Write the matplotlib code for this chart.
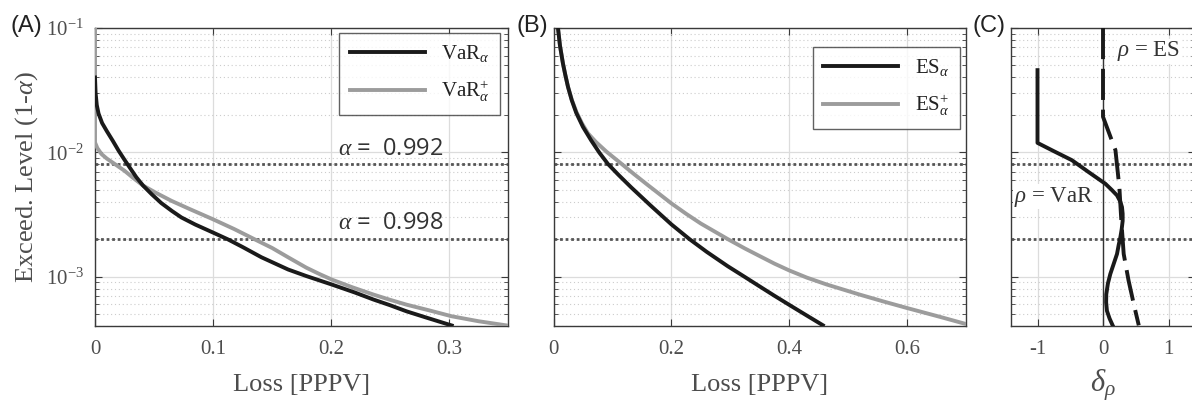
import matplotlib
matplotlib.use("Agg")
import matplotlib.pyplot as plt
import numpy as np

# ---------------- data ----------------
var_x = [0.0, 0.0005, 0.0015, 0.003, 0.006, 0.01, 0.015, 0.02, 0.025, 0.03, 0.035, 0.0407,
         0.048, 0.0562, 0.065, 0.0732, 0.085, 0.1, 0.1127, 0.125, 0.141, 0.1636, 0.179,
         0.2006, 0.22, 0.236, 0.25, 0.264, 0.28, 0.3023]
var_y = [0.040, 0.030, 0.024, 0.0205, 0.0172, 0.0148, 0.0124, 0.0103, 0.0087, 0.0074, 0.0063, 0.0054,
         0.0046, 0.0039, 0.00338, 0.00299, 0.00262, 0.00226, 0.00199, 0.00173, 0.00143, 0.00114, 0.00101,
         0.000863, 0.000745, 0.000653, 0.000588, 0.000525, 0.00047, 0.000404]

varp_x = [0.0, 0.0, 0.002, 0.0054, 0.01, 0.0167, 0.025, 0.0325, 0.0407, 0.052, 0.0647, 0.08,
          0.1, 0.118, 0.135, 0.15, 0.1636, 0.179, 0.19, 0.2006, 0.218, 0.236, 0.25, 0.264,
          0.283, 0.3023, 0.325, 0.349]
varp_y = [0.1, 0.012, 0.0108, 0.0097, 0.0089, 0.00805, 0.0071, 0.0062, 0.0054, 0.0047, 0.00407, 0.0035,
          0.00289, 0.00241, 0.002, 0.0017, 0.00143, 0.00118, 0.00105, 0.000946, 0.00082, 0.000716,
          0.00065, 0.000594, 0.000535, 0.000479, 0.000437, 0.000404]

esp_x = [0.0076, 0.011, 0.016, 0.02, 0.0246, 0.031, 0.0387, 0.048, 0.0585, 0.072, 0.09, 0.115,
         0.137, 0.16, 0.18, 0.2, 0.225, 0.25, 0.2958, 0.325, 0.35, 0.375, 0.4, 0.43, 0.463,
         0.5195, 0.56, 0.6, 0.655, 0.6975]
esp_y = [0.1, 0.072, 0.0519, 0.042, 0.0336, 0.0265, 0.0212, 0.0172, 0.0142, 0.0121, 0.0101, 0.0081,
         0.00665, 0.00545, 0.0046, 0.00388, 0.0032, 0.00267, 0.002, 0.00168, 0.00146, 0.00127, 0.00112,
         0.00098, 0.000865, 0.000716, 0.00063, 0.000558, 0.000475, 0.000418]

es_x = [0.0076, 0.011, 0.016, 0.02, 0.0246, 0.031, 0.0387, 0.05, 0.064, 0.078, 0.0924, 0.11,
        0.132, 0.165, 0.2, 0.2308, 0.26, 0.2958, 0.325, 0.35, 0.375, 0.4, 0.43, 0.457]
es_y = [0.1, 0.072, 0.0519, 0.042, 0.0336, 0.0262, 0.0207, 0.0160, 0.01245, 0.0099, 0.00805, 0.0066,
        0.00521, 0.00372, 0.00263, 0.002, 0.00158, 0.00121, 0.00099, 0.000832, 0.0007, 0.000592,
        0.000485, 0.000406]

dvar_x = [-1.0, -1.0, -0.75, -0.474, -0.22, -0.05, 0.036, 0.13, 0.214, 0.265, 0.29, 0.30, 0.30,
          0.285, 0.265, 0.24, 0.214, 0.16, 0.112, 0.075, 0.05, 0.048, 0.06, 0.10, 0.147]
dvar_y = [0.0458, 0.0119, 0.0102, 0.00863, 0.00693, 0.0060, 0.00558, 0.0050, 0.0045, 0.0040, 0.00362,
          0.0032, 0.0028, 0.0024, 0.00207, 0.0018, 0.00152, 0.00125, 0.00105, 0.00088, 0.00072,
          0.00062, 0.00053, 0.00046, 0.000405]

des_x = [0.0, 0.0, 0.19, 0.25, 0.28, 0.316, 0.39, 0.47, 0.546]
des_y = [0.1, 0.0193, 0.0104, 0.00521, 0.0028, 0.00152, 0.00093, 0.0006, 0.000405]

alpha_levels = [0.992, 0.998]
alpha_labels = [r"$\alpha$ =  0.992", r"$\alpha$ =  0.998"]

xticks_a = [0, 0.1, 0.2, 0.3]
xticks_b = [0, 0.2, 0.4, 0.6]
xticks_c = [-1, 0, 1]

# ---------------- style ----------------
plt.rcParams["font.family"] = ["Liberation Serif", "DejaVu Serif"]
plt.rcParams["mathtext.fontset"] = "custom"
plt.rcParams["mathtext.rm"] = "Liberation Serif"
plt.rcParams["mathtext.it"] = "Liberation Serif:italic"
plt.rcParams["mathtext.bf"] = "Liberation Serif:bold"

W, H = 1192, 409
fig = plt.figure(figsize=(W / 100, H / 100), dpi=100)

TXT = "#4d4d4d"
SPINE = "#3a3a3a"
BLACK = "#1a1a1a"
GRAY = "#9c9c9c"

def make_ax(left, right, top, bottom):
    return fig.add_axes([left / W, (H - bottom) / H, (right - left) / W, (bottom - top) / H])

def style(ax, xlim, xticks, ylabels):
    ax.set_yscale("log")
    ax.set_ylim(4e-4, 0.1)
    ax.set_xlim(*xlim)
    ax.set_xticks(xticks)
    ax.set_xticklabels([("%g" % t) for t in xticks])
    ax.grid(True, which="major", color="#dcdcdc", lw=0.9, ls="-")
    ax.grid(True, which="minor", axis="y", color="#cccccc", lw=0.8, ls=(0, (1, 2.5)))
    ax.set_axisbelow(True)
    for s in ax.spines.values():
        s.set_color(SPINE)
        s.set_linewidth(1.0)
    ax.tick_params(which="both", direction="in", top=True, right=True, colors=SPINE,
                   labelcolor=TXT, labelsize=15)
    ax.tick_params(axis="x", pad=10)
    ax.tick_params(axis="y", pad=8)
    ax.tick_params(which="major", length=5)
    ax.tick_params(which="minor", length=3)
    if not ylabels:
        ax.tick_params(axis="y", which="both", labelleft=False)
    for lvl in alpha_levels:
        ax.axhline(1 - lvl, color="#555555", lw=2.0, ls=(0, (1, 1)), zorder=2)

# Panel A
axA = make_ax(95, 508, 28, 326)
style(axA, (0, 0.35), xticks_a, True)
axA.plot(var_x, var_y, color=BLACK, lw=2.8, label=r"VaR$_{\alpha}$", zorder=4)
axA.plot(varp_x, varp_y, color=GRAY, lw=2.8, label=r"VaR$_{\alpha}^{+}$", zorder=3)
axA.set_xlabel("Loss [PPPV]", fontsize=19, color=TXT, labelpad=11)
axA.set_ylabel(r"Exceed. Level (1-$\alpha$)", fontsize=19, color=TXT, labelpad=4)
for lvl, lab in zip(alpha_levels, alpha_labels):
    axA.text(0.206, (1 - lvl) * 1.07, lab, fontsize=17, color="#333333",
             family=["Open Sans", "DejaVu Sans"], va="bottom", ha="left")
legA = axA.legend(loc="upper right", bbox_to_anchor=(500 / W, (H - 33) / H),
                  bbox_transform=fig.transFigure, fontsize=15, frameon=True, fancybox=False,
                  edgecolor=SPINE, handlelength=3.6, borderaxespad=0, labelspacing=0.7,
                  borderpad=0.5)
legA.get_frame().set_linewidth(1.0)
for t in legA.get_texts():
    t.set_color("#222222")

# Panel B
axB = make_ax(553.5, 966, 28, 326)
style(axB, (0, 0.7), xticks_b, False)
axB.plot(es_x, es_y, color=BLACK, lw=2.8, label=r"ES$_{\alpha}$", zorder=4)
axB.plot(esp_x, esp_y, color=GRAY, lw=2.8, label=r"ES$_{\alpha}^{+}$", zorder=3)
axB.set_xlabel("Loss [PPPV]", fontsize=19, color=TXT, labelpad=11)
legB = axB.legend(loc="upper right", bbox_to_anchor=(960 / W, (H - 47) / H),
                  bbox_transform=fig.transFigure, fontsize=15, frameon=True, fancybox=False,
                  edgecolor=SPINE, handlelength=3.6, borderaxespad=0, labelspacing=0.7,
                  borderpad=0.5)
legB.get_frame().set_linewidth(1.0)
for t in legB.get_texts():
    t.set_color("#222222")

# Panel C
axC = make_ax(1011.3, 1194.7, 28, 326)
style(axC, (-1.4, 1.4), xticks_c, False)
axC.axvline(0, color="#333333", lw=1.0, zorder=3)
axC.plot(dvar_x, dvar_y, color=BLACK, lw=2.8, zorder=4)
axC.plot(des_x, des_y, color=BLACK, lw=2.8, ls=(0, (8, 2.5)), zorder=4)
axC.set_xlabel(r"$\delta_{\rho}$", fontsize=22, color=TXT, labelpad=6)
axC.text(-1.36, 0.0044, r"$\rho$ = VaR", fontsize=16.5, color="#333333", va="center", ha="left",
         zorder=5, bbox=dict(facecolor="white", edgecolor="none", pad=0.5))
axC.text(0.22, 0.065, r"$\rho$ = ES", fontsize=16.5, color="#333333", va="center", ha="left",
         zorder=5, bbox=dict(facecolor="white", edgecolor="none", pad=0.5))

# Panel labels
for x, lab in [(10, "(A)"), (517, "(B)"), (972, "(C)")]:
    fig.text(x / W, (H - 26) / H, lab, fontsize=17, family=["Liberation Sans", "DejaVu Sans"],
             color="#222222", va="center", ha="left")

fig.savefig("out.png", dpi=100)
